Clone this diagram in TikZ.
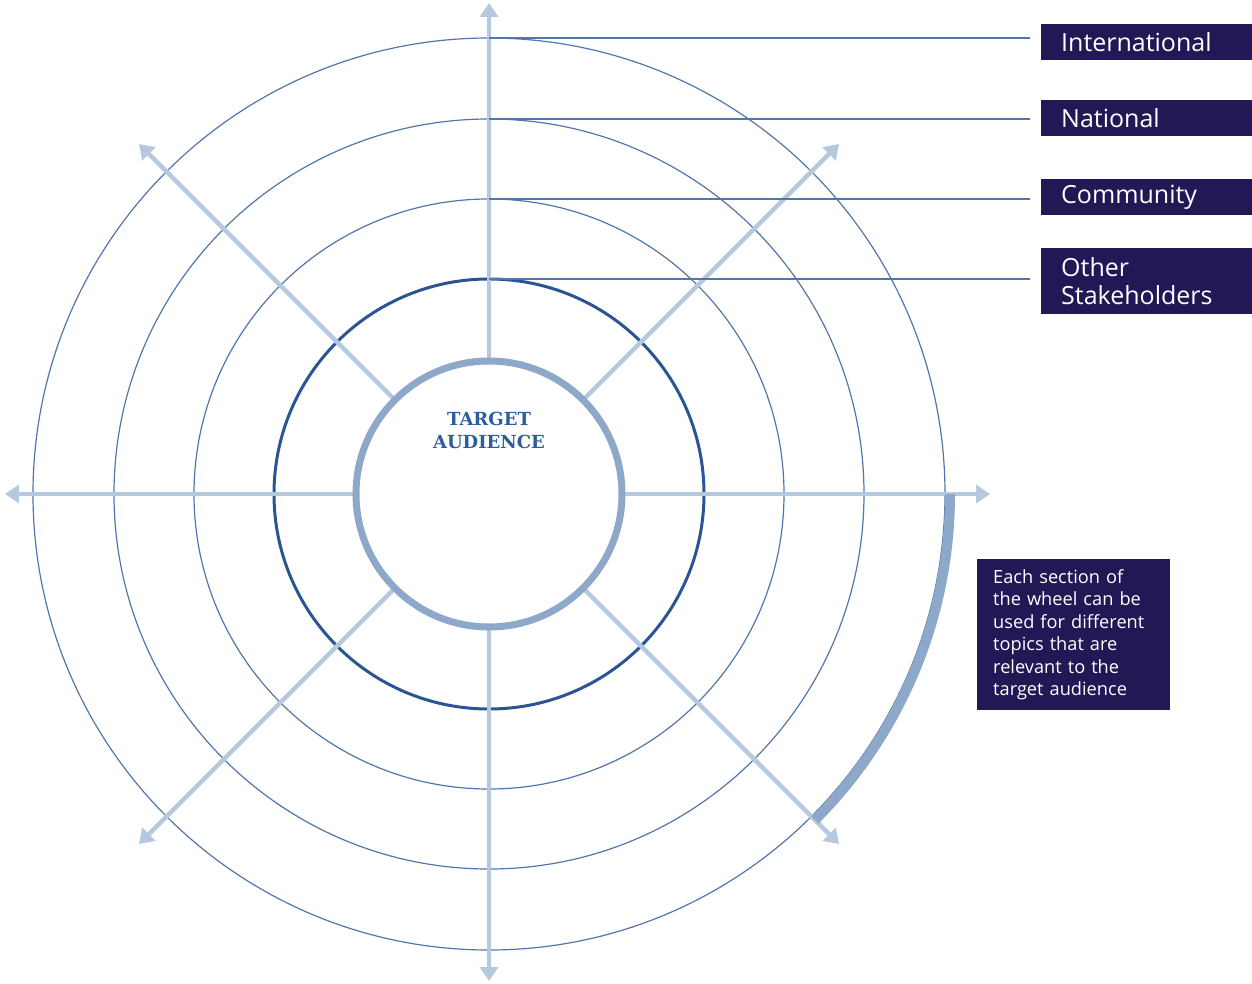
\documentclass[tikz,border=0pt]{standalone}
\usepackage{fontspec}
\setmainfont{Open Sans}
\newfontfamily\slabfont{DejaVu Serif}
\usetikzlibrary{arrows.meta,positioning}

\definecolor{navy}{HTML}{211856}
\definecolor{axisblue}{HTML}{B6C8DD}
\definecolor{hubblue}{HTML}{8EA8C9}
\definecolor{innerblue}{HTML}{2B5592}
\definecolor{ringblue}{HTML}{5276AA}
\definecolor{titleblue}{HTML}{2D5D9C}

\begin{document}
\begin{tikzpicture}[x=1pt, y=1pt,
    axis/.style={line width=4.5pt, color=axisblue, -{Triangle[width=18pt,length=14pt]}},
    ring/.style={line width=1.2pt, color=ringblue},
    leader/.style={line width=1.2pt, color=ringblue, shorten >=11pt},
    levelbox/.style={fill=navy, text=white, anchor=north west, text width=171pt,
        inner xsep=20pt, inner ysep=0pt, minimum height=36pt, align=left,
        font=\fontsize{25}{28.5}\selectfont},
    notebox/.style={fill=navy, text=white, anchor=north west, text width=161pt,
        inner xsep=16pt, inner ysep=0pt, minimum height=151pt, align=left,
        font=\fontsize{18.2}{22.4}\selectfont}
]

    % Canvas of the reference (origin at the centre of the wheel)
    \useasboundingbox (-489,-489) rectangle (763,494);

    % Radii of the rings
    \def\rHub{133}
    \def\rOther{215}
    \def\rComm{295}
    \def\rNatl{375}
    \def\rIntl{456}

    % Rings, from outside to inside
    \draw[ring] (0,0) circle[radius=\rIntl];
    \draw[ring] (0,0) circle[radius=\rNatl];
    \draw[ring] (0,0) circle[radius=\rComm];
    \draw[line width=3pt, color=innerblue] (0,0) circle[radius=\rOther];

    % Eight arrows leaving the hub
    \foreach \a/\r in {0/501, 45/495, 90/491, 135/495, 180/484, 225/495, 270/487, 315/495}
        \draw[axis] (\a:\rHub) -- (\a:\r);

    % Hub
    \draw[line width=7pt, color=hubblue] (0,0) circle[radius=\rHub];
    \node[font=\slabfont\bfseries\fontsize{18}{23}\selectfont, text=titleblue, align=center]
        (target) at (0,64) {TARGET\\AUDIENCE};

    % Section band on the outer ring
    \draw[line width=10pt, color=hubblue] (461,0) arc[start angle=0, end angle=-45, radius=461];

    % Level labels
    \node[levelbox] (intl)  at (552,470) {International};
    \node[levelbox] (natl)  at (552,394) {National};
    \node[levelbox] (comm)  at (552,315) {Community};
    \node[levelbox, minimum height=66pt] (other) at (552,246) {Other\\Stakeholders};

    % Ring tops
    \coordinate (topIntl)  at (0,\rIntl);
    \coordinate (topNatl)  at (0,\rNatl);
    \coordinate (topComm)  at (0,\rComm);
    \coordinate (topOther) at (0,\rOther);

    % Leaders from the rings to the labels
    \draw[leader] (topIntl)  -- (topIntl -| intl.west);
    \draw[leader] (topNatl)  -- (topNatl -| natl.west);
    \draw[leader] (topComm)  -- (topComm -| comm.west);
    \draw[leader] (topOther) -- (topOther -| other.west);

    % Note
    \node[notebox] (note) at (488,-65)
        {Each section of\\the wheel can be\\used for different\\topics that are\\relevant to the\\target audience};

\end{tikzpicture}
\end{document}
